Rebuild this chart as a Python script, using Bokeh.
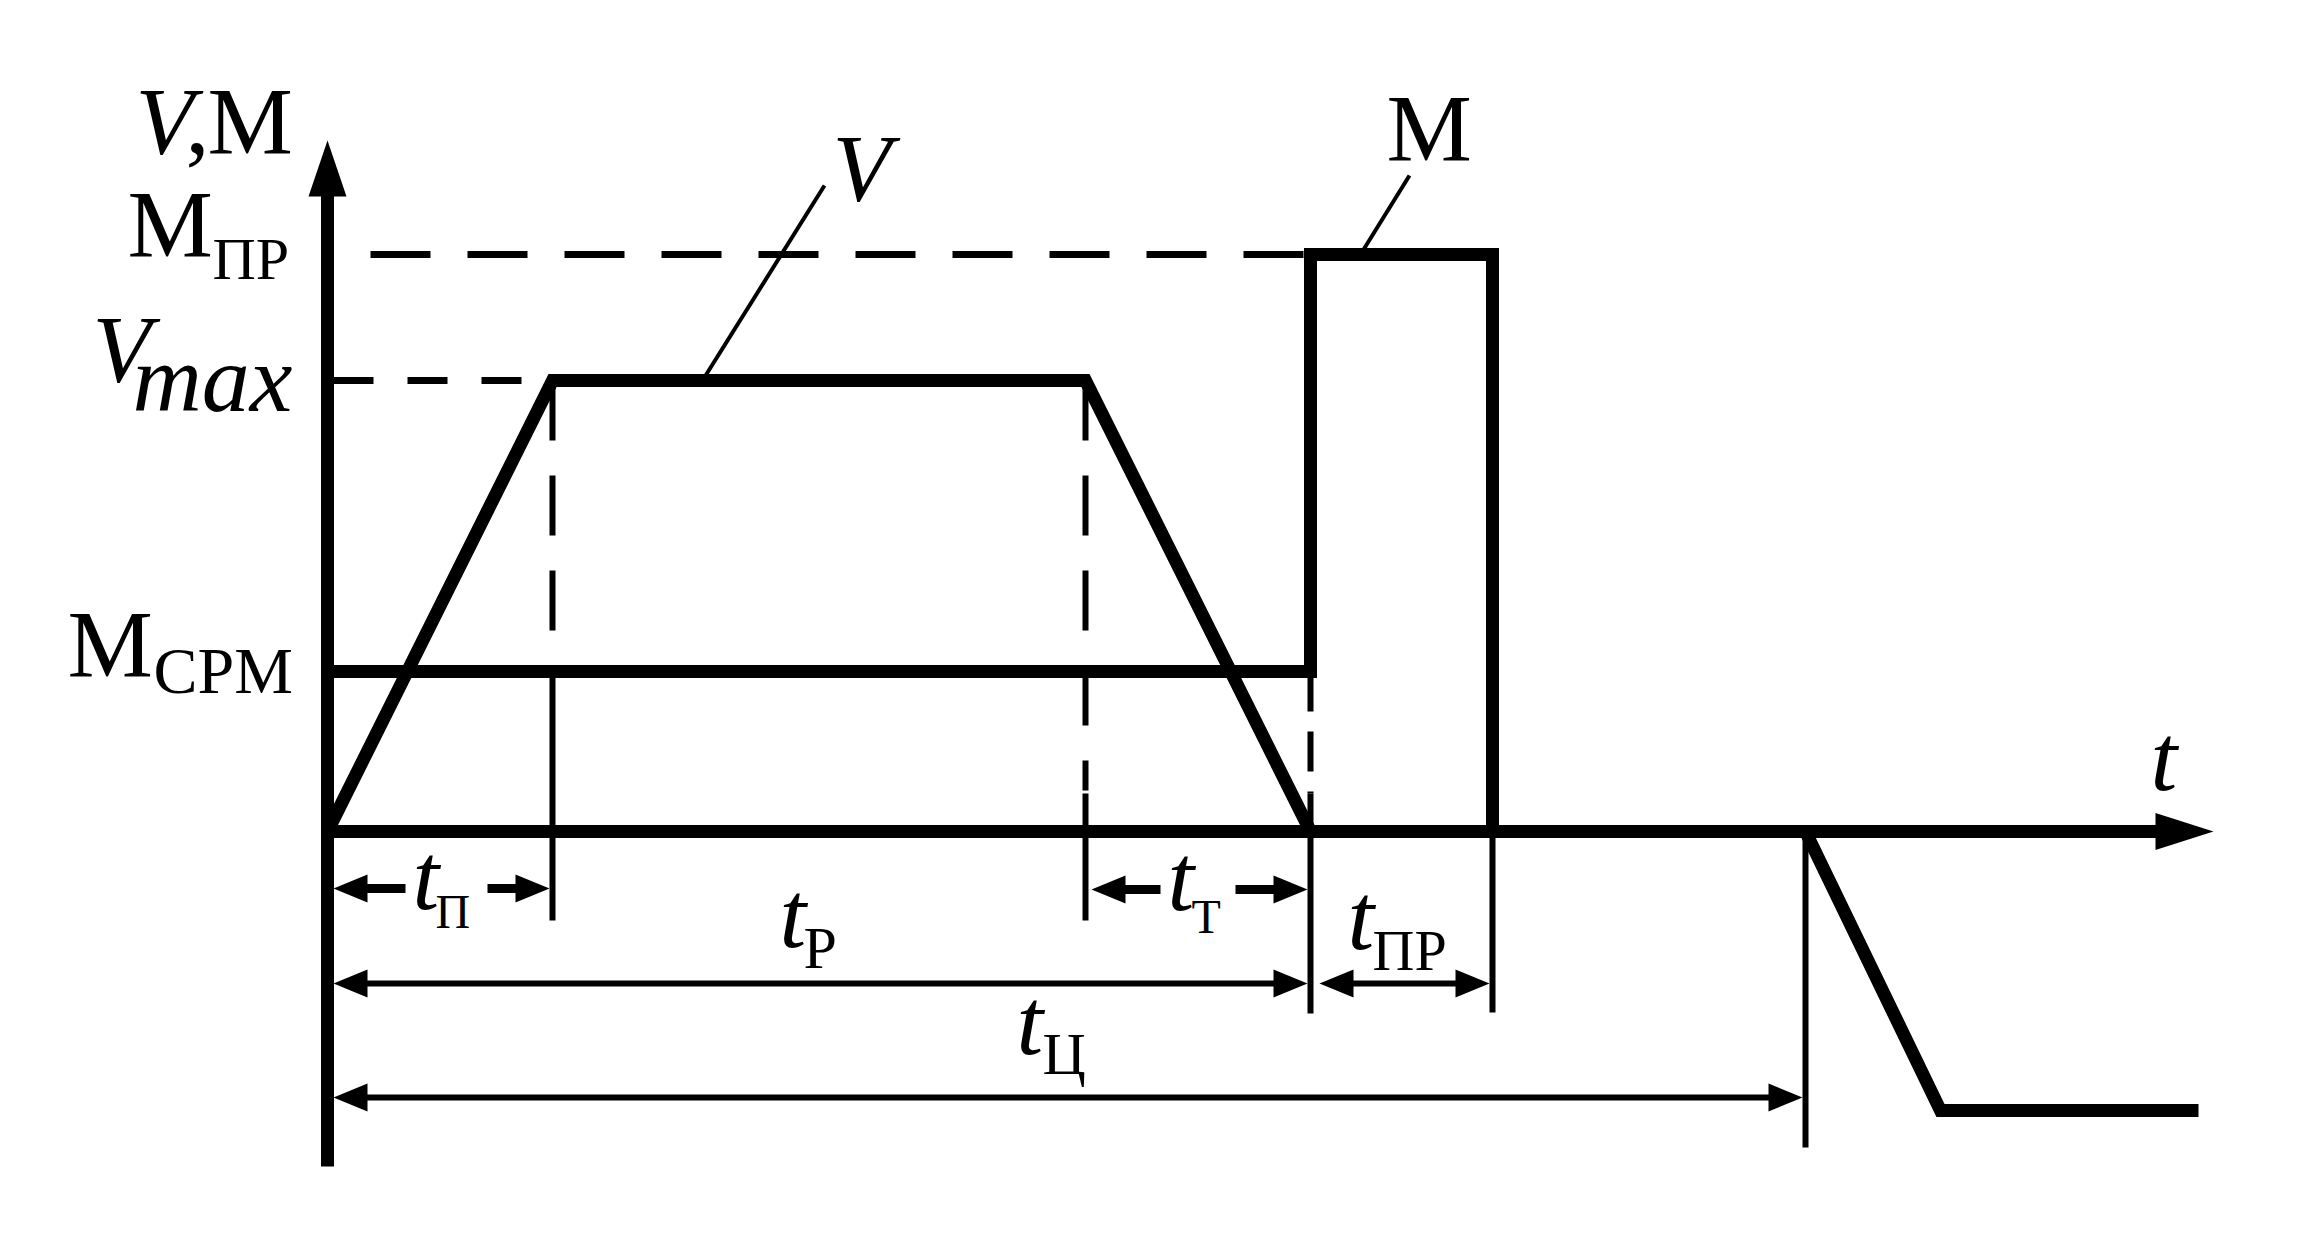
from bokeh.plotting import figure
from bokeh.models import Range1d
from bokeh.core.properties import value
from bokeh.embed import file_html
from bokeh.resources import INLINE

# ---------------- data (time in arbitrary units, levels in arbitrary units) -------------
V_t = [0.0, 2.25, 7.58, 9.83, 14.78, 16.13, 18.71]          # speed curve, time points
V_val = [0.0, 4.51, 4.51, 0.0, 0.0, -2.79, -2.79]          # speed values
M_t = [0.0, 9.83, 9.83, 11.65, 11.65]                      # torque curve, time points
M_val = [1.60, 1.60, 5.77, 5.77, 0.0]                      # torque values
level_names = ["Mпр", "Vmax", "Mсрм"]
level_values = [5.77, 4.51, 1.60]
interval_names = ["П", "Т", "Р", "ПР", "Ц"]
interval_start = [0.0, 7.58, 0.0, 9.83, 0.0]
interval_end = [2.25, 9.83, 9.83, 11.65, 14.78]

M_PR, V_MAX, M_SRM = level_values
T_P, T_T0, T_R, T_PR, T_C = 2.25, 7.58, 9.83, 11.65, 14.78

# ---------------- figure: 1 unit = 100 px ----------------
W, H = 2284, 1234
OX, OY = 327, 831        # origin in image pixels
x0 = (0 - OX) / 100
y1 = (OY - 0) / 100
p = figure(width=W, height=H, output_backend="svg", toolbar_location=None,
           x_range=Range1d(x0, x0 + W / 100), y_range=Range1d(y1 - H / 100, y1),
           min_border=0, title=None)
p.axis.visible = False
p.grid.visible = False
p.outline_line_color = None
p.background_fill_color = "white"
p.border_fill_color = "white"

BLK = "black"
THICK = 13

# ---------- axes ----------
Y_TOP, Y_BOT = 6.91, -3.35
X_TIP = 18.86
p.line([0, 0], [Y_BOT, Y_TOP - 0.5], line_width=THICK, color=BLK)
p.patch([0, -0.19, 0.19], [Y_TOP, Y_TOP - 0.56, Y_TOP - 0.56], color=BLK, line_width=0)
p.line([0, X_TIP - 0.5], [0, 0], line_width=THICK, color=BLK)
p.patch([X_TIP, X_TIP - 0.58, X_TIP - 0.58], [0, 0.185, -0.185], color=BLK, line_width=0)

# ---------- dashed helper lines ----------
DASH = dict(line_width=7, color=BLK, line_dash="60 37")
p.line([T_R - 0.07, 0.06], [M_PR, M_PR], **DASH)
p.line([0.06, T_P], [V_MAX, V_MAX], line_width=7, color=BLK, line_dash="40 34")
p.line([T_P, T_P], [V_MAX, M_SRM], line_width=6, color=BLK, line_dash="60 35")
p.line([T_T0, T_T0], [V_MAX, 0.41], line_width=6, color=BLK, line_dash="60 35")
p.line([T_R, T_R], [M_SRM, 0.38], line_width=6, color=BLK, line_dash="40 20")

# ---------- thin extension lines ----------
THIN = dict(line_width=6, color=BLK)
p.line([T_P, T_P], [M_SRM, -0.89], **THIN)
p.line([T_T0, T_T0], [0.38, -0.89], **THIN)
p.line([T_R, T_R], [0.38, -1.82], **THIN)
p.line([T_PR, T_PR], [0, -1.81], **THIN)
p.line([T_C, T_C], [0, -3.16], **THIN)

# ---------- curves ----------
p.line(V_t, V_val, line_width=THICK, color=BLK, line_join="miter")
p.line(M_t, M_val, line_width=THICK, color=BLK, line_join="miter")

# ---------- leader lines ----------
p.line([3.75, 4.97], [V_MAX, 6.46], line_width=4, color=BLK)
p.line([10.33, 10.82], [M_PR, 6.56], line_width=4, color=BLK)

# ---------- dimension arrows ----------
HL, HW = 0.34, 0.14

def head(tip_x, y, direction):
    b = tip_x - direction * HL
    p.patch([tip_x, b, b], [y, y + HW, y - HW], color=BLK, line_width=0)

def dim(a, b, y, lw, gap=None):
    xa, xb = a + 0.06, b - 0.03
    head(xa, y, -1)
    head(xb, y, +1)
    if gap is None:
        p.line([xa + HL - 0.02, xb - HL + 0.02], [y, y], line_width=lw, color=BLK)
    else:
        p.line([xa + HL - 0.02, gap[0]], [y, y], line_width=lw, color=BLK)
        p.line([gap[1], xb - HL + 0.02], [y, y], line_width=lw, color=BLK)

dim(interval_start[0], interval_end[0], -0.57, 9, gap=(0.78, 1.60))
dim(interval_start[1], interval_end[1], -0.58, 9, gap=(8.33, 9.08))
dim(interval_start[2], interval_end[2], -1.52, 6)
dim(interval_start[3] + 0.03, interval_end[3], -1.52, 6)
dim(interval_start[4], interval_end[4], -2.66, 6)

# ---------- texts ----------
FONT = value("Liberation Serif")
BASE_FIX = 0.35   # baseline correction, in em

def txt(x, y, s, size, italic=False):
    yy = y + BASE_FIX * size / 100
    p.text(x=[x], y=[yy], text=[s], text_font=FONT, text_font_size=f"{size}px",
           text_font_style="italic" if italic else "normal", text_color=BLK,
           text_align="left", text_baseline="alphabetic")

BIG = 96
# axis title
txt(-1.92, 6.76, "V", BIG, True)
txt(-1.42, 6.76, ",", BIG)
txt(-1.20, 6.76, "М", BIG)
# level labels
txt(-2.00, 5.73, "М", BIG)
txt(-1.15, 5.52, level_names[0][1:].upper(), 60)
txt(-2.35, 4.48, "V", BIG, True)
txt(-1.95, 4.19, level_names[1][1:], BIG, True)
txt(-2.60, 1.53, "М", BIG)
txt(-1.74, 1.38, level_names[2][1:].upper(), 66)
# curve labels
txt(5.05, 6.29, "V", BIG, True)
txt(10.59, 6.69, "М", BIG)
txt(18.23, 0.40, "t", BIG, True)
# interval labels
sub_pos = [(0.85, -0.79, 1.08, -0.97, 48),
           (8.40, -0.80, 8.64, -1.02, 48),
           (4.52, -1.17, 4.76, -1.37, 60),
           (10.20, -1.19, 10.45, -1.39, 58),
           (6.89, -2.24, 7.15, -2.43, 60)]
for name, (tx, ty, sx, sy, fs) in zip(interval_names, sub_pos):
    txt(tx, ty, "t", BIG, True)
    txt(sx, sy, name, fs)

open("out.html", "w").write(file_html(p, INLINE))
